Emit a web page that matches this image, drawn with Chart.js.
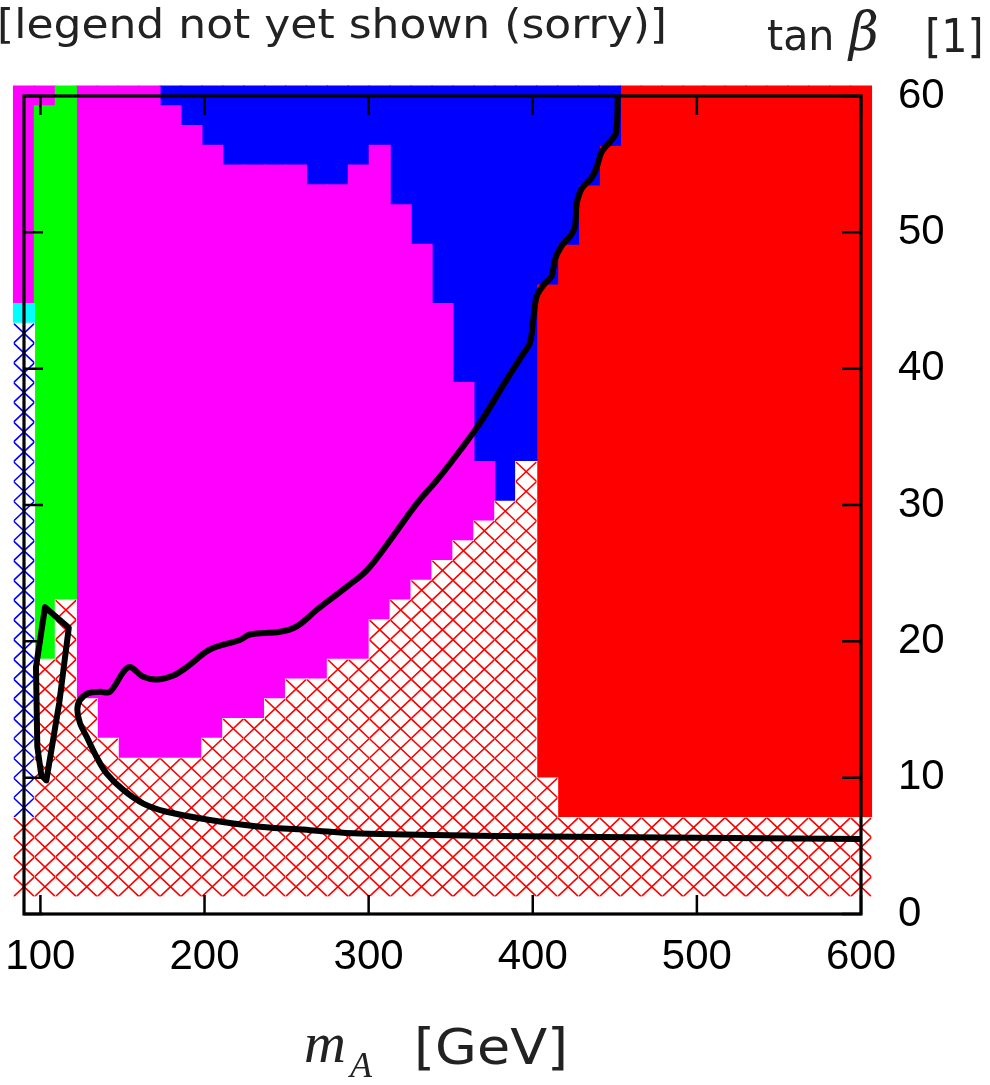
<!DOCTYPE html>
<html>
<head>
<meta charset="utf-8">
<script src="https://cdn.jsdelivr.net/npm/chart.js@4.4.1/dist/chart.umd.min.js"></script>
<style>
  html, body { margin: 0; padding: 0; background: #fff; }
  canvas { display: block; }
</style>
</head>
<body>
<canvas id="scan" width="990" height="1085"></canvas>
<script>
// scan grid: cell centres along m_A [GeV] and tan(beta)
const mAGrid = [90, 102.75, 115.5, 128.25, 141, 153.75, 166.5, 179.25, 192, 204.75,
  217.5, 230.25, 243, 255.75, 268.5, 281.25, 294, 306.75, 319.5, 332.25,
  345, 357.75, 370.5, 383.25, 396, 408.75, 421.5, 434.25, 447, 459.75,
  472.5, 485.25, 498, 510.75, 523.5, 536.25, 549, 561.75, 574.5, 587.25, 600];
const tanBetaGrid = [2, 3.45, 4.9, 6.35, 7.8, 9.25, 10.7, 12.15, 13.6, 15.05,
  16.5, 17.95, 19.4, 20.85, 22.3, 23.75, 25.2, 26.65, 28.1, 29.55,
  31, 32.45, 33.9, 35.35, 36.8, 38.25, 39.7, 41.15, 42.6, 44.05,
  45.5, 46.95, 48.4, 49.85, 51.3, 52.75, 54.2, 55.65, 57.1, 58.55, 60];

const mATicks = [100, 200, 300, 400, 500, 600];
const tanBetaTicks = [0, 10, 20, 30, 40, 50, 60];

// top row of the red-hatched (excluded) band per m_A column, starting from row 0
const redHatchTop = [3, 11, 14, 9, 7, 6, 6, 6, 6, 7, 8, 8, 9, 10, 10, 11, 11, 13, 14, 15,
  16, 17, 18, 19, 21, 5, 3, 3, 3, 3, 3, 3, 3, 3, 3, 3, 3, 3, 3, 3, 3];

// other regions as [column, first row, last row]
const blueHatchRuns = [[0, 4, 28]];
const cyanRuns = [[0, 29, 29]];
const greenRuns = [[1, 12, 39], [2, 15, 40]];
const magentaRuns = [[0, 30, 40], [1, 40, 40], [3, 10, 40], [4, 8, 40], [5, 7, 40], [6, 7, 40],
  [7, 7, 39], [8, 7, 38], [9, 8, 37], [10, 9, 36], [11, 9, 36], [12, 10, 36], [13, 11, 36],
  [14, 11, 35], [15, 12, 35], [16, 12, 36], [17, 14, 37], [18, 15, 34], [19, 16, 32],
  [20, 17, 29], [21, 18, 25], [22, 19, 21]];
const blueRuns = [[7, 40, 40], [8, 39, 40], [9, 38, 40], [10, 37, 40], [11, 37, 40], [12, 37, 40],
  [13, 37, 40], [14, 36, 40], [15, 36, 40], [16, 37, 40], [17, 38, 40], [18, 35, 40],
  [19, 33, 40], [20, 30, 40], [21, 26, 40], [22, 22, 40], [23, 20, 40], [24, 22, 40],
  [25, 31, 40], [26, 33, 40], [27, 36, 40], [28, 38, 40]];
const redRuns = [[25, 6, 30], [26, 4, 32], [27, 4, 35], [28, 4, 37], [29, 4, 40], [30, 4, 40],
  [31, 4, 40], [32, 4, 40], [33, 4, 40], [34, 4, 40], [35, 4, 40], [36, 4, 40], [37, 4, 40],
  [38, 4, 40], [39, 4, 40], [40, 4, 40]];

// black contours
const contourMA = [451.8, 450.7, 447.1, 442.0, 439.0, 435.9, 429.8, 426.8, 425.7, 422.7,
  417.6, 413.5, 411.5, 406.4, 402.4, 400.3, 398.3, 394.2, 384.1, 367.8,
  355.7, 341.5, 329.3, 313.0, 298.8, 286.6, 268.3, 256.2, 246.0, 227.7,
  221.6, 203.3, 189.1, 181.0, 170.9, 162.7, 153.6, 142.4, 136.3, 129.2,
  124.1, 122.5, 124.1, 128.2, 134.3, 140.4, 150.5, 162.7, 176.9, 203.3,
  233.8, 264.3, 294.7, 380, 441, 599.4];
const contourTanB = [60, 57.3, 56.65, 55.9, 54.8, 54.0, 53.2, 52.1, 50.4, 49.7,
  49.0, 48.0, 46.8, 46.1, 45.3, 43.6, 41.9, 41.1, 39.2, 36.0,
  34.0, 31.8, 30.1, 27.4, 25.2, 24.0, 22.3, 21.1, 20.7, 20.5,
  20.1, 19.4, 18.1, 17.5, 17.2, 17.4, 18.1, 16.3, 16.3, 16.2,
  15.7, 15.0, 14.0, 13.0, 11.5, 10.3, 9.1, 8.1, 7.5, 6.9,
  6.4, 6.15, 5.9, 5.72, 5.65, 5.5];
const islandMA = [102.8, 117.3, 111.5, 103.6, 100.5, 98.1, 97.3, 102.8];
const islandTanB = [22.5, 21.0, 15.5, 9.8, 10.2, 12.3, 18.1, 22.5];

const halfRow = (tanBetaGrid[1] - tanBetaGrid[0]) / 2;

function runBars(runs) {
  return runs.map(([col, lo, hi]) => ({
    x: mAGrid[col],
    y: [tanBetaGrid[lo] - halfRow, tanBetaGrid[hi] + halfRow],
    rows: [lo, hi]
  }));
}

function cellDataset(label, runs, color, hatchColor) {
  return {
    type: 'bar',
    label,
    data: runBars(runs),
    backgroundColor: color,
    hatchColor,
    borderWidth: 0,
    inflateAmount: 0.6,
    grouped: false,
    barPercentage: 1,
    categoryPercentage: 1,
    clip: false,
    order: 1
  };
}

function curveDataset(label, xs, ys, tension) {
  return {
    type: 'line',
    label,
    data: xs.map((v, i) => ({ x: v, y: ys[i] })),
    borderColor: '#000',
    borderWidth: 6,
    borderJoinStyle: 'round',
    borderCapStyle: 'round',
    pointRadius: 0,
    fill: false,
    tension,
    order: 0
  };
}

// X marks in every hatched cell, drawn right after its bar dataset
const hatchPlugin = {
  id: 'hatch',
  afterDatasetDraw(chart, args) {
    const ds = chart.data.datasets[args.index];
    if (!ds.hatchColor) return;
    const ctx = chart.ctx;
    const yScale = chart.scales.y;
    ctx.save();
    ctx.strokeStyle = ds.hatchColor;
    ctx.lineWidth = 1.6;
    args.meta.data.forEach((bar, i) => {
      const { x, width } = bar.getProps(['x', 'width'], true);
      const left = x - width / 2;
      const right = x + width / 2;
      const [lo, hi] = ds.data[i].rows;
      const top = yScale.getPixelForValue(tanBetaGrid[hi] + halfRow);
      const bottom = yScale.getPixelForValue(tanBetaGrid[lo] - halfRow);
      ctx.save();
      ctx.beginPath();
      ctx.rect(left, top, right - left, bottom - top);
      ctx.clip();
      ctx.beginPath();
      for (let r = lo; r <= hi; r++) {
        const t = yScale.getPixelForValue(tanBetaGrid[r] + halfRow);
        const b = yScale.getPixelForValue(tanBetaGrid[r] - halfRow);
        ctx.moveTo(left, b); ctx.lineTo(right, t);
        ctx.moveTo(left, t); ctx.lineTo(right, b);
      }
      ctx.stroke();
      ctx.restore();
    });
    ctx.restore();
  }
};

// box around the plot with inward ticks on all four sides
const framePlugin = {
  id: 'frame',
  afterDatasetsDraw(chart) {
    const { ctx, chartArea: a, scales: { x, y } } = chart;
    const len = 19;
    ctx.save();
    ctx.strokeStyle = '#000';
    ctx.lineWidth = 2.5;
    ctx.beginPath();
    x.ticks.forEach(t => {
      const px = x.getPixelForValue(t.value);
      ctx.moveTo(px, a.bottom); ctx.lineTo(px, a.bottom - len);
      ctx.moveTo(px, a.top); ctx.lineTo(px, a.top + len);
    });
    y.ticks.forEach(t => {
      const py = y.getPixelForValue(t.value);
      ctx.moveTo(a.left, py); ctx.lineTo(a.left + len, py);
      ctx.moveTo(a.right, py); ctx.lineTo(a.right - len, py);
    });
    ctx.stroke();
    ctx.lineWidth = 3.2;
    ctx.strokeRect(a.left, a.top, a.right - a.left, a.bottom - a.top);
    ctx.restore();
  }
};

function stretchedText(ctx, text, x, y, font, sx) {
  ctx.save();
  ctx.translate(x, y);
  ctx.scale(sx, 1);
  ctx.font = font;
  ctx.fillText(text, 0, 0);
  ctx.restore();
}

const captionPlugin = {
  id: 'captions',
  afterDraw(chart) {
    const ctx = chart.ctx;
    ctx.save();
    ctx.fillStyle = '#222';
    ctx.textBaseline = 'alphabetic';
    ctx.textAlign = 'left';
    stretchedText(ctx, '[legend not yet shown (sorry)]', -3, 38, "40px 'DejaVu Sans'", 1.1);
    // y axis title
    stretchedText(ctx, 'tan', 767, 50, "42px 'DejaVu Sans'", 0.98);
    stretchedText(ctx, 'β', 849, 50, "italic 54px 'DejaVu Serif'", 0.95);
    stretchedText(ctx, '[1]', 925, 52, "47px 'DejaVu Sans'", 0.88);
    // x axis title
    stretchedText(ctx, 'm', 304, 1062, "italic 58px 'Liberation Serif'", 1.0);
    stretchedText(ctx, 'A', 350, 1077, "italic 36px 'Liberation Serif'", 1.0);
    stretchedText(ctx, '[GeV]', 414, 1064, "50px 'DejaVu Sans'", 1.08);
    ctx.restore();
  }
};

const tickFont = { family: "'Liberation Sans', Arial, sans-serif", size: 42 };

new Chart(document.getElementById('scan'), {
  type: 'bar',
  data: {
    datasets: [
      cellDataset('excluded', redHatchTop.map((top, col) => [col, 0, top]), '#ffffff', '#ff0000'),
      cellDataset('excluded (low tan beta)', blueHatchRuns, '#ffffff', '#0000ff'),
      cellDataset('cyan', cyanRuns, '#00ffff'),
      cellDataset('green', greenRuns, '#00ff00'),
      cellDataset('magenta', magentaRuns, '#ff00ff'),
      cellDataset('blue', blueRuns, '#0000ff'),
      cellDataset('red', redRuns, '#ff0000'),
      curveDataset('contour', contourMA, contourTanB, 0.35),
      curveDataset('island', islandMA, islandTanB, 0)
    ]
  },
  options: {
    responsive: false,
    animation: false,
    devicePixelRatio: 1,
    events: [],
    layout: { padding: { left: 24, top: 96, right: 0, bottom: 0 } },
    plugins: {
      legend: { display: false },
      tooltip: { enabled: false },
      title: { display: false }
    },
    scales: {
      x: {
        type: 'linear',
        min: 90,
        max: 600,
        offset: false,
        afterBuildTicks: s => { s.ticks = mATicks.map(v => ({ value: v })); },
        afterFit: s => { s.height = 171; s.paddingLeft = 0; s.paddingRight = 0; },
        grid: { display: false, drawTicks: false },
        border: { display: false },
        ticks: { color: '#000', padding: 18, maxRotation: 0, autoSkip: false, font: tickFont }
      },
      y: {
        type: 'linear',
        position: 'right',
        min: 0,
        max: 60,
        afterBuildTicks: s => { s.ticks = tanBetaTicks.map(v => ({ value: v })); },
        afterFit: s => { s.width = 129; s.paddingTop = 0; s.paddingBottom = 0; },
        grid: { display: false, drawTicks: false },
        border: { display: false },
        ticks: { color: '#000', padding: 37, autoSkip: false, font: tickFont }
      }
    }
  },
  plugins: [hatchPlugin, framePlugin, captionPlugin]
});
</script>
</body>
</html>
